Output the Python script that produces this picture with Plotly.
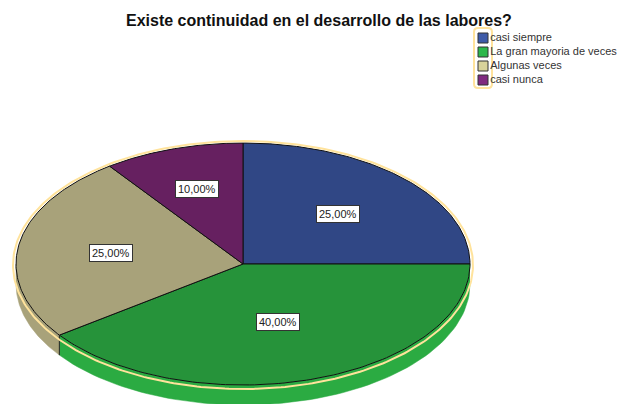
import numpy as np
import plotly.graph_objects as go

# Chart data
categories = ["casi siempre", "La gran mayoria de veces", "Algunas veces", "casi nunca"]
values = [25, 40, 25, 10]
value_labels = ["25,00%", "40,00%", "25,00%", "10,00%"]

top_colors = ["#304785", "#26933a", "#a8a27a", "#662060"]
wall_colors = ["#304785", "#2bab42", "#a8a27a", "#662060"]
legend_colors = ["#3d5aa8", "#2db84b", "#d8d29a", "#7f2a80"]
label_radius = [0.59, 0.50, 0.59, 0.65]

# Tilted pie geometry, in axis units
CX, CY = 243, 264
RX, RY = 227, 121
DEPTH = 20
RIM = "#ffe39c"


def ellipse(t, dy=0, rx=RX, ry=RY):
    return CX + rx * np.sin(t), CY + dy - ry * np.cos(t)


fig = go.Figure()

shares = np.array(values) / sum(values) * 2 * np.pi
stops = np.concatenate([[0], np.cumsum(shares)])

# side walls first, only the front half of the disc shows
for i in range(len(values)):
    a = max(stops[i], np.pi / 2)
    b = min(stops[i + 1], 3 * np.pi / 2)
    if a >= b:
        continue
    t = np.linspace(a, b, 80)
    x1, y1 = ellipse(t)
    x2, y2 = ellipse(t[::-1], dy=DEPTH)
    fig.add_trace(go.Scatter(
        x=np.concatenate([x1, x2]), y=np.concatenate([y1, y2]),
        fill="toself", fillcolor=wall_colors[i], mode="lines",
        line=dict(color=wall_colors[i], width=0.5), hoverinfo="skip",
    ))

# top face
for i in range(len(values)):
    t = np.linspace(stops[i], stops[i + 1], 120)
    x, y = ellipse(t)
    fig.add_trace(go.Scatter(
        x=np.concatenate([[CX], x, [CX]]), y=np.concatenate([[CY], y, [CY]]),
        fill="toself", fillcolor=top_colors[i], mode="lines",
        line=dict(color="#111111", width=1), hoverinfo="skip",
    ))

# front edge of the wall under the green/tan boundary
t_edge = stops[2]
ex, ey = ellipse(np.array([t_edge, t_edge]))
fig.add_trace(go.Scatter(
    x=ex, y=ey + np.array([0, DEPTH]), mode="lines",
    line=dict(color="#222222", width=1), hoverinfo="skip",
))

# pale rim round the disc
t = np.linspace(0, 2 * np.pi, 360)
x, y = ellipse(t, dy=1, rx=RX + 3, ry=RY + 3)
fig.add_trace(go.Scatter(
    x=x, y=y, mode="lines", line=dict(color=RIM, width=2), hoverinfo="skip",
))

# value labels
for i, label in enumerate(value_labels):
    mid = (stops[i] + stops[i + 1]) / 2
    lx = CX + label_radius[i] * RX * np.sin(mid)
    ly = CY - label_radius[i] * RY * np.cos(mid)
    fig.add_annotation(
        x=lx, y=ly, text=label, showarrow=False,
        font=dict(family="Liberation Sans", size=11, color="#222222"),
        bgcolor="white", bordercolor="#333333", borderwidth=1, borderpad=2,
    )

# legend drawn by hand, the swatches sit in a rounded pale frame
fig.add_shape(
    type="path",
    path="M 478 28 L 488 28 Q 492 28 492 32 L 492 84 Q 492 88 488 88 L 478 88 Q 474 88 474 84 L 474 32 Q 474 28 478 28 Z",
    line=dict(color=RIM, width=2), fillcolor="white", layer="below",
)
legend_y = [38 + 14 * i for i in range(len(categories))]
fig.add_trace(go.Scatter(
    x=[483] * len(categories), y=legend_y, mode="markers+text",
    marker=dict(symbol="square", size=10, color=legend_colors, line=dict(color="#333333", width=1)),
    text=categories, textposition="middle right",
    textfont=dict(family="Liberation Sans", size=11, color="#333333"),
    hoverinfo="skip",
))

fig.update_layout(
    width=618,
    height=404,
    margin=dict(l=0, r=0, t=0, b=0),
    showlegend=False,
    paper_bgcolor="white",
    plot_bgcolor="white",
    xaxis=dict(range=[0, 618], visible=False),
    yaxis=dict(range=[404, 0], visible=False),
    annotations=list(fig.layout.annotations) + [dict(
        x=319, y=20, text="<b>Existe continuidad en el desarrollo de las labores?</b>",
        showarrow=False, font=dict(family="Liberation Sans", size=16, color="#111111"),
    )],
)

fig.write_html("out.html", post_script="document.body.style.margin='0';", config={"displayModeBar": False})
